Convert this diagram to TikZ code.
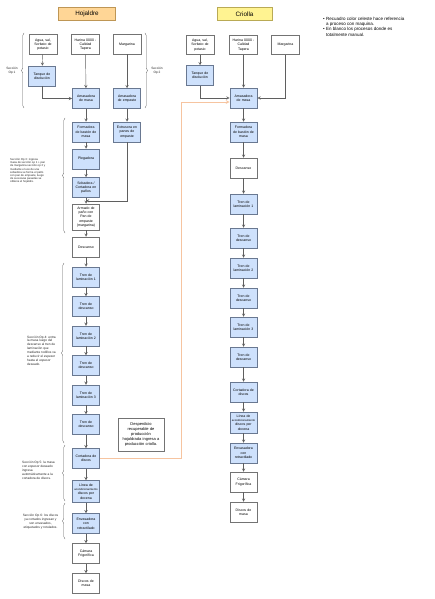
\documentclass[tikz,border=0pt]{standalone}
\usepackage{fontspec}
\setmainfont{Liberation Sans}
\usetikzlibrary{positioning,decorations.pathreplacing}
\definecolor{procfill}{RGB}{206,225,252}
\definecolor{procdraw}{RGB}{105,120,145}
\definecolor{mandraw}{RGB}{115,115,115}
\definecolor{hojfill}{RGB}{255,214,150}
\definecolor{hojdraw}{RGB}{190,150,85}
\definecolor{crifill}{RGB}{255,243,145}
\definecolor{cridraw}{RGB}{185,170,85}
\definecolor{linegray}{RGB}{95,95,95}
\definecolor{linkorange}{RGB}{246,196,160}
\begin{document}
\begin{tikzpicture}
    [x=1pt,y=-1pt,node distance=9pt,
     box/.style={rectangle,minimum width=26pt,minimum height=20pt,text width=25pt,align=center,
       inner sep=1.2pt,font=\fontsize{3.5}{4.3}\selectfont,line width=0.5pt},
     proc/.style={box,draw=procdraw,fill=procfill},
     manual/.style={box,draw=mandraw,fill=white},
     input/.style={manual,minimum width=27pt,text width=26pt,minimum height=19.5pt},
     title/.style={rectangle,minimum width=57pt,minimum height=13pt,font=\fontsize{6.3}{7}\selectfont,line width=0.5pt},
     link/.style={->,>=stealth,draw=linegray,line width=0.45pt},
     oplink/.style={->,>=stealth,draw=linkorange,line width=0.7pt},
     opbrace/.style={decorate,decoration={brace,amplitude=2.5pt},draw=linegray,line width=0.4pt},
     oplabel/.style={font=\fontsize{3.2}{3.9}\selectfont,text=black!85,align=left,inner sep=0pt}]
    \useasboundingbox (0,0) rectangle (434,599);

    % Hojaldre
    \node[title,fill=hojfill,draw=hojdraw] (hoj) at (87,14) {Hojaldre};
    \node[input] (agua1) at (43,44.5) {Agua, sal,\\Sorbato de\\potasio};
    \node[input] (harina1) at (85.5,44.5) {Harina 0000 -\\Calidad\\Tapera};
    \node[input] (marg1) at (127,44.5) {Margarina};
    \node[proc] (tanque1) at (42,76) {Tanque de\\disolución};
    \node[proc] (amas1) at (86,98.5) {Amasadora\\de masa};
    \node[proc] (emp1) at (127,98.5) {Amasadora\\de empaste};
    \node[proc] (form1) [below=13pt of amas1] {Formadora\\de bastón de\\masa};
    \node[proc] (extr1) [below=13pt of emp1] {Extrusora en\\panes de\\empaste};
    \node[proc] (pleg1) [below=6.5pt of form1] {Plegadora};
    \node[proc] (sob1) [below=8pt of pleg1] {Sobadora /\\Cortadora en\\paños};
    \coordinate[below=3pt of sob1] (join1);
    \node[manual,minimum height=26pt] (arm1) [below=6pt of sob1] {Armado de\\paño con\\Pan de\\empaste\\(margarina)};
    \node[manual] (desc1) [below=6.5pt of arm1] {Descanso};
    \node[proc] (tla1) [below=9.5pt of desc1] {Tren de\\laminación 1};
    \node[proc] (tda1) [below=of tla1] {Tren de\\descanso};
    \node[proc] (tlb1) [below=of tda1] {Tren de\\laminación 2};
    \node[proc] (tdb1) [below=of tlb1] {Tren de\\descanso};
    \node[proc] (tlc1) [below=of tdb1] {Tren de\\laminación 3};
    \node[proc] (tdc1) [below=of tlc1] {Tren de\\descanso};
    \node[proc] (cort1) [below=13.5pt of tdc1] {Cortadora de\\discos};
    \node[proc,minimum height=22pt] (lin1) [below=11.5pt of cort1] {Línea de\\{\fontsize{2.8}{4.3}\selectfont acondicionamiento}\\discos por\\docena};
    \node[proc] (env1) [below=10.5pt of lin1] {Envasadora\\con\\retractilado};
    \node[manual] (cam1) [below=9.5pt of env1] {Cámara\\Frigorífica};
    \node[manual] (disc1) [below=9.5pt of cam1] {Discos de\\masa};

    \draw[link] (agua1) -- (tanque1);
    \draw[link] (harina1) -- (amas1);
    \draw[link] (marg1) -- (emp1);
    \draw[link] (tanque1) |- (amas1);
    \draw[link] (amas1) -- (form1);
    \draw[link] (emp1) -- (extr1);
    \draw[link] (form1) -- (pleg1);
    \draw[link] (pleg1) -- (sob1);
    \draw[link] (sob1) -- (arm1);
    \draw[link] (extr1) |- (join1);
    \draw[link] (arm1) -- (desc1);
    \draw[link] (desc1) -- (tla1);
    \draw[link] (tla1) -- (tda1);
    \draw[link] (tda1) -- (tlb1);
    \draw[link] (tlb1) -- (tdb1);
    \draw[link] (tdb1) -- (tlc1);
    \draw[link] (tlc1) -- (tdc1);
    \draw[link] (tdc1) -- (cort1);
    \draw[link] (cort1) -- (lin1);
    \draw[link] (lin1) -- (env1);
    \draw[link] (env1) -- (cam1);
    \draw[link] (cam1) -- (disc1);

    % secciones
    \draw[opbrace] (24,108) -- (24,33);
    \node[oplabel,align=center] (op1) at (12,70.5) {Sección\\Op 1};
    \draw[opbrace] (145,33) -- (145,108);
    \node[oplabel,align=center] (op2) at (157,70.5) {Sección\\Op 2};
    \draw[opbrace] (65,233) -- (65,118);
    \node[oplabel,anchor=west,font=\fontsize{2.8}{3.2}\selectfont] (op3) at (10,171)
      {Sección Op 3: ingresa\\masa de sección op 1 + pan\\de margarina sección op 2 y\\mediante el uso de una\\sobadora se forma el paño\\con pan de empaste, luego\\de sucesivas pasadas se\\obtiene el hojaldre.};
    \draw[opbrace] (64,443) -- (64,263);
    \node[oplabel,anchor=west] (op4) at (27,350.5)
      {Sección Op 4: entra\\la masa luego del\\descanso al tren de\\laminación que\\mediante rodillos va\\a reducir el espesor\\hasta el espesor\\deseado.};
    \draw[opbrace] (65,501) -- (65,445);
    \node[oplabel,anchor=west] (op5) at (22,470.5)
      {Sección Op 5: la masa\\con espesor deseado\\ingresa\\automáticamente a la\\cortadora de discos.};
    \draw[opbrace] (65,539) -- (65,503);
    \node[oplabel,align=center] (op6) at (40.5,521.5)
      {Sección Op 6: los discos\\ya cortados ingresan y\\son envasados,\\etiquetados y rotulados.};

    \node[manual,text width=44pt,minimum width=46pt,minimum height=33pt,font=\fontsize{4}{4.9}\selectfont] (desp) at (141,434.5)
      {Desperdicio\\recuperable de\\producción\\hojaldrada ingresa a\\producción criolla.};

    % Criolla
    \node[title,fill=crifill,draw=cridraw,minimum width=55pt] (cri) at (244.5,14) {Criolla};
    \node[input] (agua2) at (200,45) {Agua, sal,\\Sorbato de\\potasio};
    \node[input] (harina2) at (243.5,45) {Harina 0000 -\\Calidad\\Tapera};
    \node[input] (marg2) at (285.5,45) {Margarina};
    \node[proc] (tanque2) at (200,75.5) {Tanque de\\disolución};
    \node[proc] (amas2) at (243.5,98) {Amasadora\\de masa};
    \node[proc] (form2) [below=13.5pt of amas2] {Formadora\\de bastón de\\masa};
    \node[manual] (desc2) [below=15.5pt of form2] {Descanso};
    \node[proc] (tla2) [below=15.5pt of desc2] {Tren de\\laminación 1};
    \node[proc] (tda2) [below=13.5pt of tla2] {Tren de\\descanso};
    \node[proc] (tlb2) [below=9.5pt of tda2] {Tren de\\laminación 2};
    \node[proc] (tdb2) [below=9.5pt of tlb2] {Tren de\\descanso};
    \node[proc] (tlc2) [below=8.5pt of tdb2] {Tren de\\laminación 3};
    \node[proc] (tdc2) [below=9.5pt of tlc2] {Tren de\\descanso};
    \node[proc] (cort2) [below=14.5pt of tdc2] {Cortadora de\\discos};
    \node[proc,minimum height=21pt] (lin2) [below=9.5pt of cort2] {Línea de\\{\fontsize{2.8}{4.3}\selectfont acondicionamiento}\\discos por\\docena};
    \node[proc] (env2) [below=9.5pt of lin2] {Envasadora\\con\\retractilado};
    \node[manual] (cam2) [below=8.5pt of env2] {Cámara\\Frigorífica};
    \node[manual] (disc2) [below=9.5pt of cam2] {Discos de\\masa};

    \draw[link] (agua2) -- (tanque2);
    \draw[link] (harina2) -- (amas2);
    \draw[link] (tanque2) |- (amas2);
    \draw[link] (marg2) |- (amas2);
    \draw[link] (amas2) -- (form2);
    \draw[link] (form2) -- (desc2);
    \draw[link] (desc2) -- (tla2);
    \draw[link] (tla2) -- (tda2);
    \draw[link] (tda2) -- (tlb2);
    \draw[link] (tlb2) -- (tdb2);
    \draw[link] (tdb2) -- (tlc2);
    \draw[link] (tlc2) -- (tdc2);
    \draw[link] (tdc2) -- (cort2);
    \draw[link] (cort2) -- (lin2);
    \draw[link] (lin2) -- (env2);
    \draw[link] (env2) -- (cam2);
    \draw[link] (cam2) -- (disc2);

    % desperdicio de hojaldre a criolla
    \coordinate (ocorner) at (181,0);
    \draw[oplink] (cort1.east) -- (cort1.east -| ocorner) |- ([yshift=-4pt]amas2.west);

    \node[anchor=north west,align=left,inner sep=0pt,font=\fontsize{4.5}{5.2}\selectfont] (notes) at (323,17)
      {\textbullet~Recuadro color celeste hace referencia\\\phantom{\textbullet~}a proceso con maquina.\\
       \textbullet~En blanco los procesos donde es\\\phantom{\textbullet~}totalmente manual.};
\end{tikzpicture}
\end{document}
